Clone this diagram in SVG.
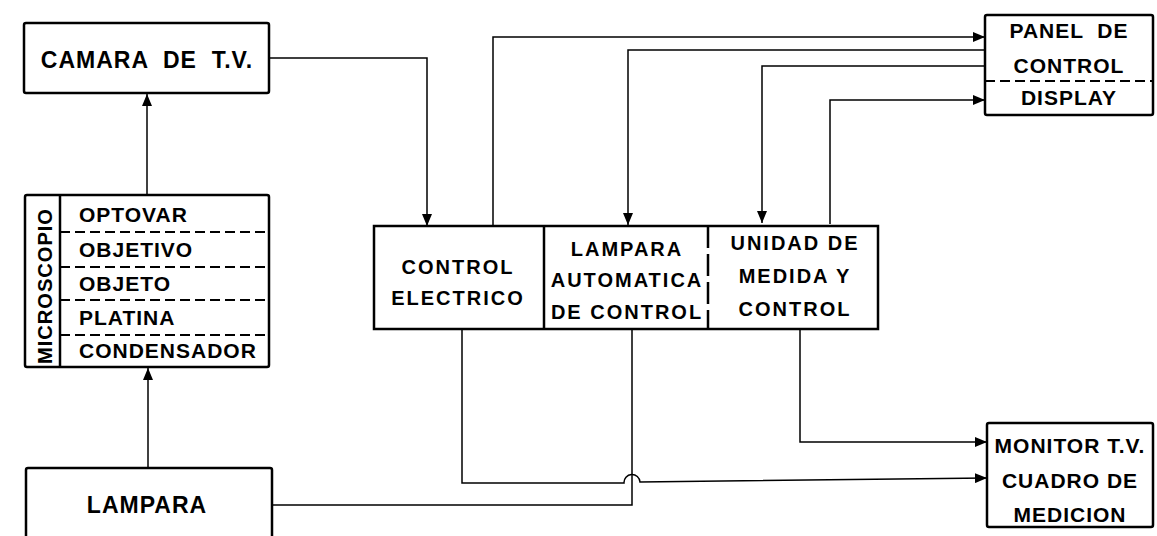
<svg xmlns="http://www.w3.org/2000/svg" width="1157" height="536" viewBox="0 0 1157 536">
<style>
.box{fill:#fff;stroke:#000;stroke-width:2.5}
.div{stroke:#000;stroke-width:2.5;fill:none}
.dash{stroke:#000;stroke-width:2;fill:none;stroke-dasharray:10 5}
.ln{stroke:#000;stroke-width:1.5;fill:none}
text{font-family:"Liberation Sans",Arial,sans-serif;font-weight:bold;fill:#000;letter-spacing:1px}
.c{text-anchor:middle}
.s20{font-size:20px;letter-spacing:2px}
.s21{font-size:21px}
.s23{font-size:23px}
</style>
<defs>
<marker id="ah" viewBox="0 0 12 10" refX="12" refY="5" markerWidth="12" markerHeight="10" markerUnits="userSpaceOnUse" orient="auto">
<path d="M0,0 L12,5 L0,10 Z" fill="#000"/>
</marker>
</defs>

<g id="connectors">
<path class="ln" d="M147,195 V94" marker-end="url(#ah)"/>
<path class="ln" d="M148,468 V368" marker-end="url(#ah)"/>
<path class="ln" d="M269,58 H427 V226" marker-end="url(#ah)"/>
<path class="ln" d="M493,228 V37 H985" marker-end="url(#ah)"/>
<path class="ln" d="M985,50 H628 V225" marker-end="url(#ah)"/>
<path class="ln" d="M985,66 H762 V223" marker-end="url(#ah)"/>
<path class="ln" d="M830,224 V100 H985" marker-end="url(#ah)"/>
<path class="ln" d="M272,505 H632 V329"/>
<path class="ln" d="M462,329 V483 H624 A8,8 0 0 1 640,482 L987,478" marker-end="url(#ah)"/>
<path class="ln" d="M800,327 V442 H987" marker-end="url(#ah)"/>
</g>

<g id="camara">
<rect class="box" x="24" y="23" width="245" height="70" rx="2"/>
<text class="s23 c" x="147" y="68" xml:space="preserve">CAMARA  DE  T.V.</text>
</g>

<g id="microscopio">
<rect class="box" x="25" y="195" width="244" height="172" rx="2"/>
<line class="div" x1="60" y1="195" x2="60" y2="367"/>
<line class="dash" x1="60" y1="232" x2="269" y2="232"/>
<line class="dash" x1="60" y1="267" x2="269" y2="267"/>
<line class="dash" x1="60" y1="300" x2="269" y2="300"/>
<line class="dash" x1="60" y1="335" x2="269" y2="335"/>
<text class="s21 c" transform="translate(52,286) rotate(-90)" x="0" y="0" textLength="156" lengthAdjust="spacingAndGlyphs">MICROSCOPIO</text>
<text class="s21" x="79" y="222">OPTOVAR</text>
<text class="s21" x="79" y="257">OBJETIVO</text>
<text class="s21" x="79" y="291">OBJETO</text>
<text class="s21" x="79" y="325">PLATINA</text>
<text class="s21" x="79" y="358">CONDENSADOR</text>
</g>

<g id="lampara">
<rect class="box" x="26" y="468" width="246" height="80" rx="2"/>
<text class="s23 c" x="147" y="513">LAMPARA</text>
</g>

<g id="control-electrico">
<rect class="box" x="374" y="226" width="504" height="103"/>
<line class="div" x1="544" y1="226" x2="544" y2="329"/>
<text class="s20 c" x="458" y="274">CONTROL</text>
<text class="s20 c" x="458" y="305">ELECTRICO</text>
</g>

<g id="lampara-automatica">
<line class="dash" x1="708" y1="226" x2="708" y2="329" style="stroke-width:2.5;stroke-dasharray:22 6"/>
<text class="s20 c" x="627" y="256">LAMPARA</text>
<text class="s20 c" x="627" y="287">AUTOMATICA</text>
<text class="s20 c" x="627" y="319">DE CONTROL</text>
</g>

<g id="unidad-medida">
<text class="s20 c" x="795" y="250">UNIDAD DE</text>
<text class="s20 c" x="795" y="283">MEDIDA Y</text>
<text class="s20 c" x="795" y="316">CONTROL</text>
</g>

<g id="panel">
<rect class="box" x="985" y="15" width="168" height="100" rx="2"/>
<line class="dash" x1="985" y1="81" x2="1153" y2="81"/>
<text class="s21 c" x="1069" y="38" xml:space="preserve">PANEL  DE</text>
<text class="s21 c" x="1069" y="73">CONTROL</text>
<text class="s21 c" x="1069" y="105">DISPLAY</text>
</g>

<g id="monitor">
<rect class="box" x="987" y="423" width="166" height="104" rx="2"/>
<text class="s21 c" x="1070" y="453">MONITOR T.V.</text>
<text class="s21 c" x="1070" y="488">CUADRO DE</text>
<text class="s21 c" x="1070" y="522">MEDICION</text>
</g>
</svg>
